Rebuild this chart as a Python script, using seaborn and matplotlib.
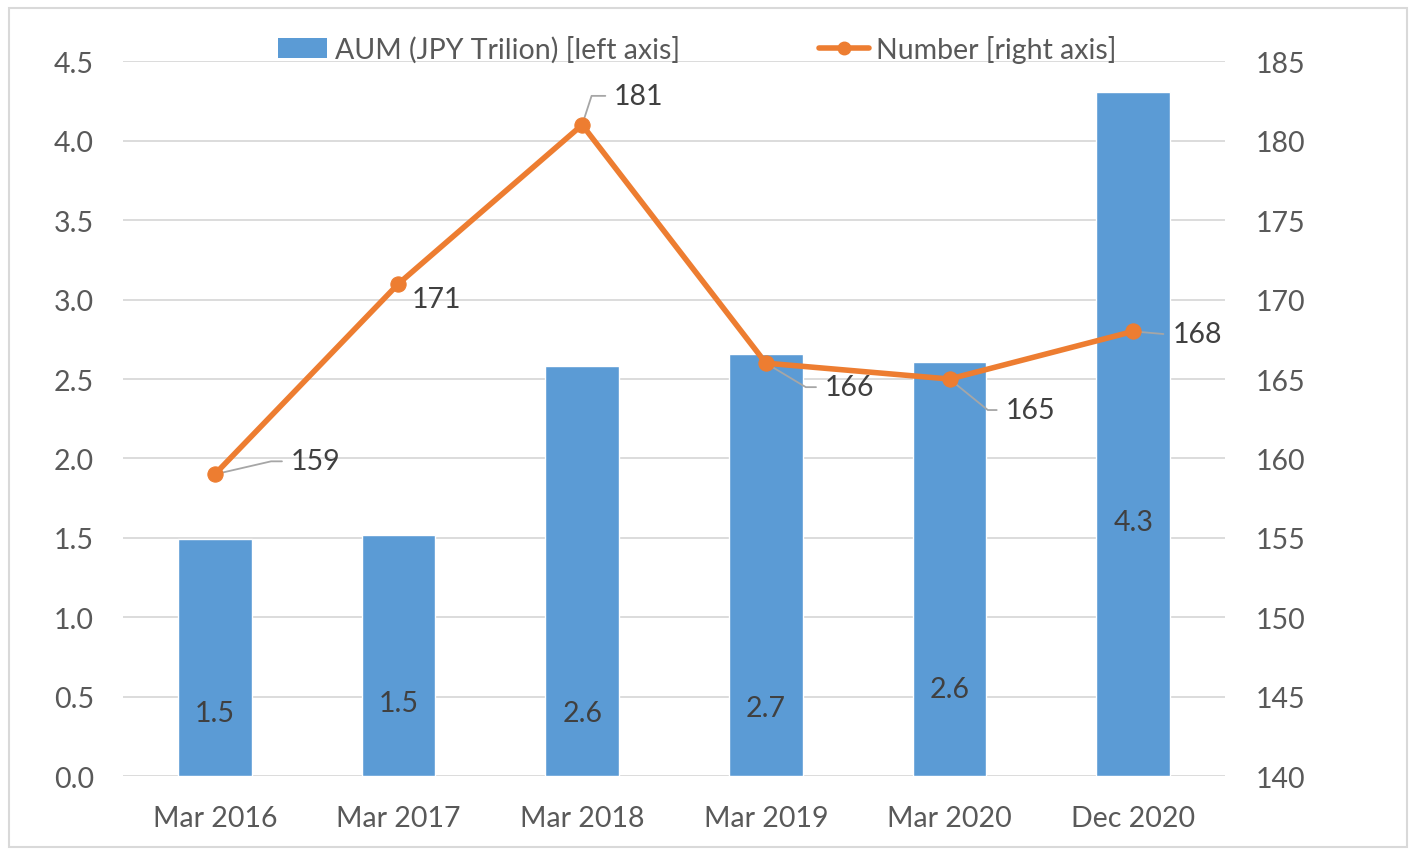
import numpy as np
import pandas as pd
import seaborn as sns
import matplotlib.pyplot as plt
from matplotlib.lines import Line2D
from matplotlib.patches import Patch, Rectangle

# data
periods = ["Mar 2016", "Mar 2017", "Mar 2018", "Mar 2019", "Mar 2020", "Dec 2020"]
aum = [1.49, 1.52, 2.58, 2.66, 2.61, 4.31]
aum_labels = ["1.5", "1.5", "2.6", "2.7", "2.6", "4.3"]
number = [159, 171, 181, 166, 165, 168]

# where the labels sit (layout only)
bar_label_y = [0.40, 0.46, 0.40, 0.43, 0.55, 1.60]
line_label_off = [(76, 13), (13, -15), (32, 29), (59, -24), (56, -31), (39, -3)]
leader_angle = [13, None, 72, -31, -39, -5]

BLUE = "#5B9BD5"
ORANGE = "#ED7D31"
GRID = "#D9D9D9"
TXT = "#595959"
FS = 20.5

sns.set_theme(style="white")
plt.rcParams["font.family"] = ["Lato", "DejaVu Sans"]

df = pd.DataFrame({"period": periods, "aum": aum, "number": number, "idx": np.arange(len(periods))})

fig = plt.figure(figsize=(14.13, 8.54), dpi=100)
ax = fig.add_axes([0.087, 0.090, 0.780, 0.837])

sns.barplot(data=df, x="period", y="aum", color=BLUE, saturation=1, width=0.4, ax=ax, zorder=2)
ax.set_ylim(0, 4.5)
ax.set_yticks(np.arange(0, 4.51, 0.5))
ax.set_yticklabels([f"{v:.1f}" for v in np.arange(0, 4.51, 0.5)])
ax.yaxis.grid(True, color=GRID, lw=1.3, zorder=0)
ax.set_axisbelow(True)
ax.set_xlabel("")
ax.set_ylabel("")
for s in ax.spines.values():
    s.set_visible(False)
ax.tick_params(axis="y", length=0, pad=21, labelsize=FS, labelcolor=TXT)
ax.tick_params(axis="x", length=0, pad=21, labelsize=FS, labelcolor=TXT)
ax.set_xlim(-0.5, len(periods) - 0.5)

for i, lab in enumerate(aum_labels):
    ax.text(i, bar_label_y[i], lab, ha="center", va="center", fontsize=FS, color="#404040", zorder=5)

ax2 = ax.twinx()
sns.lineplot(data=df, x="idx", y="number", color=ORANGE, lw=4, marker="o", markersize=11,
             markeredgecolor=ORANGE, ax=ax2, zorder=4)
ax2.set_ylim(140, 185)
ax2.set_yticks(np.arange(140, 186, 5))
ax2.set_ylabel("")
ax2.set_xlabel("")
ax2.set_xlim(-0.5, len(periods) - 0.5)
for s in ax2.spines.values():
    s.set_visible(False)
ax2.tick_params(axis="y", length=0, pad=22, labelsize=FS, labelcolor=TXT)
ax2.grid(False)

for i, v in enumerate(number):
    ang = leader_angle[i]
    arrow = None
    if ang is not None:
        arrow = dict(arrowstyle="-", color="#A6A6A6", lw=1.3, relpos=(0, 0.5),
                     shrinkA=4, shrinkB=0,
                     connectionstyle=f"angle,angleA=0,angleB={ang},rad=0")
    ax2.annotate(str(v), xy=(i, v), xytext=line_label_off[i], textcoords="offset pixels",
                 ha="left", va="center", fontsize=FS, color="#404040", arrowprops=arrow)

handles = [Patch(facecolor=BLUE, edgecolor="none"),
           Line2D([0], [0], color=ORANGE, lw=4, marker="o", markersize=9)]
leg = ax.legend(handles, ["AUM (JPY Trilion) [left axis]", "Number [right axis]"],
                loc="center", bbox_to_anchor=(0.521, 1.017), ncol=2, frameon=False,
                fontsize=FS, handlelength=1.75, handletextpad=0.25, columnspacing=4.9,
                labelcolor=TXT, borderaxespad=0)

fig.patches.append(Rectangle((9 / 1413, 6 / 854), 1398 / 1413, 839 / 854, transform=fig.transFigure,
                             fill=False, edgecolor=GRID, lw=1.5))

fig.savefig("out.png", dpi=100)
